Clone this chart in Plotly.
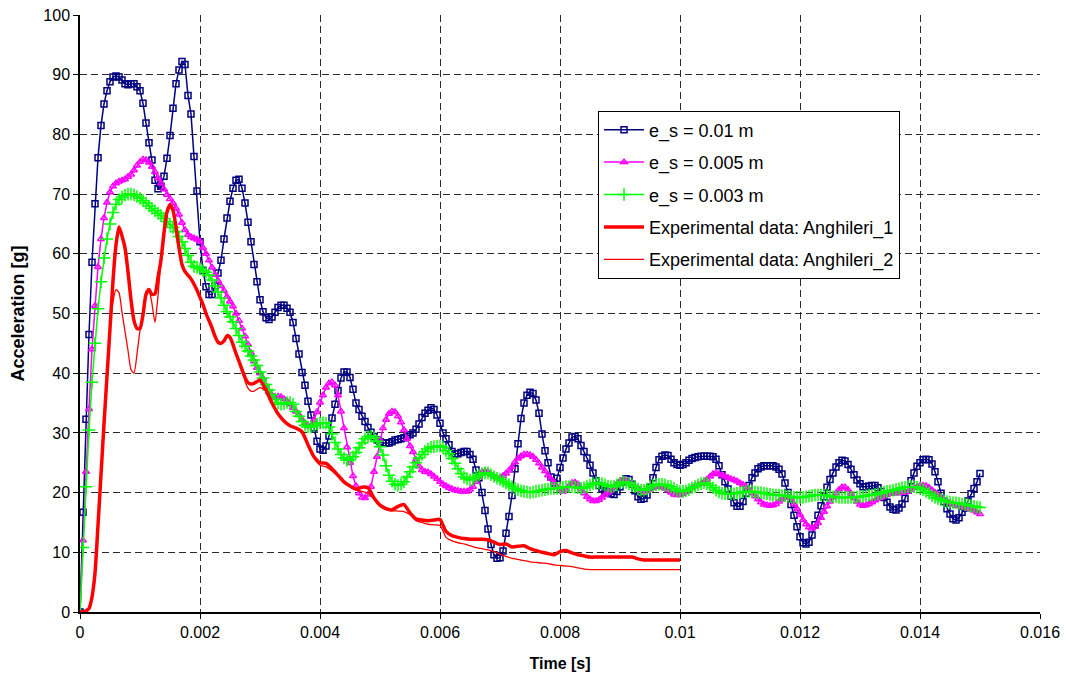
import numpy as np
import plotly.graph_objects as go

# Simulation time grid: 0 .. 0.015 s, sampled every 0.05 ms
t_sim = np.arange(301) * 0.00005

acc_es_010 = [
    0, 16.7, 32.3, 46.5, 58.6, 68.4, 76.1, 81.5, 85.1, 87.3,
    88.8, 89.6, 89.8, 89.6, 89.1, 88.5, 88.3, 88.5, 88.5, 88.0,
    87.3, 85.2, 81.9, 78.6, 75.7, 72.3, 70.9, 71.3, 73.0, 76.0,
    79.8, 84.4, 88.5, 90.8, 92.2, 91.7, 86.5, 83.4, 76.3, 70.5,
    62.0, 57.2, 54.5, 53.2, 53.2, 54.6, 56.8, 58.9, 62.5, 66.0,
    68.8, 71.0, 72.3, 72.5, 71.0, 68.5, 65.3, 62.0, 58.2, 55.3,
    52.3, 50.3, 49.3, 49.0, 49.4, 50.2, 51.0, 51.4, 51.4, 50.9,
    50.2, 48.5, 45.8, 43.2, 40.1, 38.0, 35.3, 33.0, 30.8, 28.6,
    27.3, 27.1, 27.8, 29.5, 32.5, 34.8, 37.1, 39.2, 40.2, 40.2,
    39.3, 37.3, 35.0, 33.9, 32.8, 31.9, 30.9, 30.1, 29.4, 28.8,
    28.5, 28.3, 28.3, 28.3, 28.5, 28.8, 28.9, 29.0, 29.2, 29.4,
    29.7, 30.0, 30.6, 31.5, 32.6, 33.3, 33.8, 34.2, 33.9, 33.0,
    31.6, 30.0, 29.0, 28.0, 26.9, 26.5, 26.5, 26.7, 26.9, 26.9,
    26.4, 25.6, 23.8, 22.5, 20.0, 17.0, 13.9, 11.3, 9.6, 9.0,
    9.1, 10.2, 13.2, 16.0, 19.5, 24.0, 28.2, 32.4, 35.0, 36.3,
    36.8, 36.6, 35.5, 33.3, 29.8, 27.0, 25.0, 22.6, 21.6, 22.4,
    24.2, 25.8, 27.3, 28.3, 29.3, 29.4, 29.0, 27.9, 26.9, 25.8,
    24.6, 23.3, 22.0, 21.2, 20.7, 20.3, 20.1, 19.8, 19.7, 20.2,
    21.0, 21.8, 22.3, 22.2, 21.4, 20.3, 19.3, 18.9, 19.0, 19.6,
    20.9, 22.5, 24.2, 25.5, 26.1, 26.3, 26.2, 25.6, 25.0, 24.7,
    24.6, 24.7, 25.0, 25.4, 25.7, 25.9, 26.0, 26.1, 26.1, 26.1,
    26.1, 26.0, 25.6, 24.5, 23.0, 21.8, 20.6, 19.4, 18.3, 17.7,
    17.7, 18.5, 19.9, 21.2, 22.5, 23.3, 24.0, 24.3, 24.5, 24.5,
    24.5, 24.5, 24.3, 23.9, 23.1, 21.6, 20.0, 18.0, 16.2, 14.3,
    12.6, 11.6, 11.4, 11.7, 12.9, 14.6, 16.2, 17.8, 19.3, 20.9,
    22.2, 23.3, 24.3, 25.0, 25.4, 25.3, 24.7, 23.9, 23.0, 22.1,
    21.5, 21.0, 21.0, 21.1, 21.2, 21.2, 20.8, 20.2, 19.2, 18.4,
    17.6, 17.2, 17.1, 17.4, 18.1, 19.0, 20.4, 22.0, 23.3, 24.4,
    25.0, 25.5, 25.6, 25.5, 24.8, 23.5, 21.8, 19.9, 18.5, 17.3,
    16.4, 15.6, 15.4, 15.8, 16.7, 17.4, 18.6, 19.8, 20.7, 21.8,
    23.2,
]

acc_es_005 = [
    0, 12.0, 23.5, 34.0, 44.0, 51.3, 57.8, 62.5, 66.0, 68.6,
    70.3, 71.3, 71.8, 72.1, 72.3, 72.5, 72.9, 73.3, 74.0, 74.8,
    75.4, 75.8, 75.7, 75.3, 74.6, 73.7, 72.7, 71.8, 70.8, 69.9,
    69.2, 68.5, 67.6, 66.6, 65.2, 64.0, 63.2, 62.8, 62.6, 62.4,
    62.1, 61.0, 60.0, 58.9, 57.7, 56.5, 55.5, 54.6, 53.8, 52.8,
    52.0, 51.2, 50.0, 48.8, 47.5, 46.2, 44.8, 43.4, 42.0, 40.9,
    40.0, 39.1, 37.9, 36.9, 36.3, 36.1, 36.1, 36.0, 35.7, 35.3,
    34.8, 34.2, 33.6, 33.0, 32.2, 31.6, 31.1, 31.2, 32.2, 33.5,
    35.1, 36.3, 37.6, 38.3, 38.5, 38.0, 36.3, 33.6, 30.8, 27.6,
    25.0, 22.8, 21.1, 19.9, 19.2, 19.1, 19.7, 21.0, 23.5, 26.0,
    28.8, 30.8, 32.2, 33.2, 33.6, 33.5, 32.8, 31.8, 30.5, 29.0,
    27.8, 26.8, 25.5, 24.4, 23.8, 23.5, 23.4, 23.1, 22.7, 22.3,
    21.8, 21.4, 21.1, 20.8, 20.6, 20.4, 20.3, 20.2, 20.2, 20.2,
    20.5, 21.0, 21.8, 22.6, 23.4, 23.6, 23.4, 23.0, 22.7, 22.4,
    22.5, 22.8, 23.2, 23.7, 24.3, 25.1, 25.7, 26.1, 26.4, 26.4,
    26.3, 26.0, 25.5, 24.9, 24.2, 23.6, 22.9, 22.3, 21.7, 21.0,
    20.5, 20.2, 20.5, 21.1, 21.6, 21.7, 21.4, 20.6, 19.9, 19.3,
    18.9, 18.6, 18.6, 18.8, 19.2, 19.6, 20.0, 20.4, 20.9, 21.5,
    21.9, 22.2, 22.1, 21.8, 21.3, 21.0, 20.7, 20.4, 20.2, 20.3,
    20.5, 20.8, 21.0, 21.0, 20.9, 20.7, 20.4, 20.0, 19.7, 19.6,
    19.6, 19.8, 20.1, 20.4, 20.8, 21.1, 21.3, 21.5, 21.8, 22.2,
    22.7, 23.1, 23.3, 23.1, 22.9, 22.7, 22.5, 22.3, 22.1, 21.9,
    21.6, 21.3, 21.0, 20.5, 19.9, 19.4, 18.9, 18.4, 18.0, 17.9,
    17.8, 17.9, 18.1, 18.5, 18.9, 19.2, 19.3, 19.0, 18.1, 17.3,
    16.3, 15.4, 14.7, 14.2, 14.0, 14.3, 14.9, 15.8, 16.8, 17.7,
    18.5, 19.2, 19.9, 20.5, 20.9, 20.9, 20.5, 19.8, 19.1, 18.5,
    18.0, 17.8, 17.9, 18.1, 18.4, 18.7, 19.0, 19.2, 19.4, 19.6,
    19.8, 19.9, 19.9, 19.9, 20.0, 20.1, 20.2, 20.5, 20.8, 21.0,
    21.2, 21.2, 21.1, 20.8, 20.4, 20.0, 19.6, 19.2, 18.8, 18.5,
    18.2, 18.0, 17.8, 17.7, 17.6, 17.5, 17.3, 17.2, 17.0, 16.7,
    16.4,
]

acc_es_003 = [
    0, 10.8, 21.0, 30.5, 38.5, 45.0, 50.8, 55.3, 59.3, 62.5,
    65.0, 66.9, 68.3, 69.1, 69.5, 69.8, 70.0, 70.0, 69.9, 69.6,
    69.3, 68.9, 68.5, 68.0, 67.6, 67.2, 66.8, 66.4, 65.9, 65.4,
    64.9, 64.4, 63.7, 62.9, 62.0, 60.9, 59.7, 58.6, 57.9, 57.7,
    57.5, 57.2, 56.9, 56.4, 55.6, 54.6, 53.6, 52.6, 51.4, 50.3,
    49.4, 48.6, 47.5, 46.3, 45.2, 44.5, 43.7, 42.9, 42.2, 41.3,
    40.2, 39.2, 38.1, 37.2, 36.4, 35.6, 35.0, 34.8, 34.9, 35.1,
    35.1, 34.8, 33.6, 32.8, 31.9, 31.3, 31.0, 31.0, 31.2, 31.5,
    31.7, 31.7, 31.6, 31.0, 29.8, 28.4, 27.3, 26.4, 25.8, 25.4,
    25.5, 26.0, 26.7, 27.5, 28.3, 29.0, 29.4, 29.5, 29.2, 28.6,
    27.7, 26.3, 24.5, 22.9, 21.9, 21.4, 21.2, 21.4, 21.8, 22.6,
    23.5, 24.3, 25.0, 25.8, 26.4, 26.9, 27.3, 27.6, 27.7, 27.8,
    27.8, 27.6, 27.0, 26.5, 25.7, 24.9, 24.0, 23.2, 22.6, 22.3,
    22.1, 22.3, 22.6, 22.9, 23.2, 23.3, 23.3, 23.0, 22.7, 22.4,
    22.2, 21.9, 21.6, 21.3, 21.0, 20.7, 20.5, 20.3, 20.2, 20.1,
    20.0, 20.1, 20.2, 20.3, 20.4, 20.5, 20.6, 20.7, 20.7, 20.7,
    20.8, 20.9, 21.0, 21.0, 21.0, 20.9, 20.8, 20.7, 20.8, 21.0,
    21.3, 21.5, 21.6, 21.6, 21.5, 21.3, 21.1, 21.0, 21.1, 21.3,
    21.6, 21.8, 21.7, 21.5, 21.2, 21.0, 20.6, 20.4, 20.4, 20.6,
    21.0, 21.2, 21.3, 21.4, 21.4, 21.3, 21.1, 21.0, 20.7, 20.4,
    20.2, 20.2, 20.3, 20.5, 20.8, 21.0, 21.3, 21.5, 21.6, 21.5,
    21.2, 20.8, 20.4, 20.1, 19.9, 19.8, 19.8, 19.8, 19.8, 19.9,
    20.0, 20.1, 20.2, 20.2, 20.2, 20.1, 20.0, 20.0, 19.9, 19.8,
    19.7, 19.6, 19.6, 19.6, 19.5, 19.5, 19.4, 19.3, 19.2, 19.2,
    19.2, 19.2, 19.3, 19.4, 19.5, 19.6, 19.6, 19.6, 19.6, 19.5,
    19.4, 19.3, 19.3, 19.2, 19.2, 19.2, 19.2, 19.2, 19.2, 19.3,
    19.3, 19.4, 19.5, 19.6, 19.6, 19.7, 19.8, 19.9, 20.1, 20.2,
    20.3, 20.4, 20.5, 20.6, 20.8, 20.9, 21.0, 21.0, 21.0, 20.9,
    20.7, 20.5, 20.2, 19.9, 19.5, 19.2, 19.0, 18.8, 18.6, 18.5,
    18.4, 18.3, 18.3, 18.2, 18.1, 18.0, 17.9, 17.8, 17.7, 17.6,
    17.5,
]

# Experimental time grid: 0.05 ms steps up to 3 ms, then 0.1 ms steps up to 10 ms
t_exp = np.concatenate([np.arange(61) * 0.00005, 0.003 + np.arange(1, 71) * 0.0001])

acc_anghileri_1 = [
    0, 0, 0.2, 0.6, 2.5, 6.5, 14.5, 23.0, 31.5, 39.5,
    47.5, 55.5, 61.5, 64.5, 63.0, 61.0, 57.0, 52.3, 48.8, 47.5,
    47.5, 49.8, 53.2, 54.0, 53.2, 53.3, 56.0, 59.0, 63.5, 67.0,
    68.2, 67.3, 64.5, 61.0, 58.2, 57.0, 56.4, 55.8, 54.9, 53.9,
    52.7, 51.5, 50.0, 48.8, 47.6, 46.2, 45.2, 45.0, 45.4, 46.3,
    46.0, 44.8, 43.3, 42.0, 40.6, 39.3, 38.4, 38.2, 38.3, 38.6,
    38.8,
    37.2, 35.0, 33.2, 32.0, 31.2, 30.8, 30.2, 28.0, 26.0, 25.0,
    24.9, 24.0, 22.9, 21.8, 21.1, 20.6, 20.9, 20.8, 19.1, 17.9,
    17.3, 17.1, 17.7, 18.0, 16.6, 15.6, 15.4, 15.3, 15.4, 15.5,
    13.5, 12.8, 12.5, 12.3, 12.2, 12.2, 12.2, 12.1, 11.7, 11.3,
    11.4, 10.9, 11.0, 11.1, 10.6, 10.3, 10.0, 9.8, 9.6, 10.1,
    10.3, 9.9, 9.6, 9.4, 9.2, 9.2, 9.2, 9.2, 9.2, 9.2,
    9.2, 9.2, 8.9, 8.7, 8.7, 8.7, 8.7, 8.7, 8.7, 8.7,
]

acc_anghileri_2 = [
    0, 0, 0.2, 0.6, 2.5, 6.5, 14.5, 23.0, 31.5, 39.5,
    47.5, 52.0, 54.0, 53.5, 50.2, 47.0, 43.8, 40.6, 40.0, 43.2,
    47.2, 50.3, 53.3, 53.8, 51.6, 48.5, 53.0, 58.8, 63.3, 66.8,
    68.2, 67.3, 64.5, 61.0, 58.2, 57.0, 56.4, 55.8, 54.9, 53.9,
    52.7, 51.5, 50.0, 48.8, 47.6, 46.2, 45.2, 45.0, 45.4, 46.3,
    46.0, 44.8, 43.3, 42.0, 40.6, 38.7, 37.5, 37.0, 37.0, 37.3,
    37.6,
    37.0, 35.0, 33.2, 32.0, 31.2, 30.8, 30.2, 28.0, 25.8, 24.6,
    24.3, 23.6, 22.7, 21.6, 21.0, 20.4, 20.2, 19.9, 18.9, 17.8,
    17.2, 17.0, 16.9, 16.8, 16.3, 15.3, 15.0, 14.7, 14.6, 14.5,
    12.5, 11.9, 11.6, 11.4, 11.1, 10.8, 10.6, 10.4, 10.1, 9.7,
    9.3, 9.0, 8.8, 8.6, 8.4, 8.3, 8.2, 8.1, 7.9, 7.8,
    7.7, 7.6, 7.4, 7.2, 7.1, 7.1, 7.1, 7.1, 7.1, 7.1,
    7.1, 7.1, 7.1, 7.1, 7.1, 7.1, 7.1, 7.1, 7.1, 7.1,
]

x_ticks = [0, 0.002, 0.004, 0.006, 0.008, 0.01, 0.012, 0.014, 0.016]
x_tick_labels = ["0", "0.002", "0.004", "0.006", "0.008", "0.01", "0.012", "0.014", "0.016"]
y_ticks = [0, 10, 20, 30, 40, 50, 60, 70, 80, 90, 100]

FONT = "Liberation Sans, Arial, sans-serif"

fig = go.Figure()

fig.add_trace(go.Scatter(
    x=t_sim, y=acc_es_010, name="e_s = 0.01 m", mode="lines+markers",
    line=dict(color="#000080", width=1.5),
    marker=dict(symbol="square-open", size=6, color="#000080", line=dict(width=1.5)),
    legendgroup="a",
))
fig.add_trace(go.Scatter(
    x=t_sim, y=acc_es_005, name="e_s = 0.005 m", mode="lines+markers",
    line=dict(color="#FF00FF", width=1.5),
    marker=dict(symbol="triangle-up-open", size=6, color="#FF00FF", line=dict(width=1.5)),
    legendgroup="b",
))
fig.add_trace(go.Scatter(
    x=t_sim, y=acc_es_003, name="e_s = 0.003 m", mode="lines+markers",
    line=dict(color="#00FF00", width=1.5),
    marker=dict(symbol="cross-thin-open", size=9, color="#00FF00", line=dict(width=1.5, color="#00FF00")),
    legendgroup="c",
))
fig.add_trace(go.Scatter(
    x=t_exp, y=acc_anghileri_1, name="Experimental data: Anghileri_1", mode="lines",
    line=dict(color="#FF0000", width=3.5, shape="spline", smoothing=0.6),
    legendgroup="d",
))
fig.add_trace(go.Scatter(
    x=t_exp, y=acc_anghileri_2, name="Experimental data: Anghileri_2", mode="lines",
    line=dict(color="#FF0000", width=1.3, shape="spline", smoothing=0.6),
    legendgroup="e",
))

grid_color = "#2a2a2a"

fig.update_xaxes(
    range=[0, 0.016], tickvals=x_ticks, ticktext=x_tick_labels,
    showgrid=True, gridcolor=grid_color, griddash="7px,4px", gridwidth=1,
    showline=True, linecolor="black", linewidth=1.5,
    ticks="outside", ticklen=5, tickcolor="black",
    zeroline=False, automargin=False,
    tickfont=dict(family=FONT, size=16, color="black"),
    title=dict(text="<b>Time [s]</b>", font=dict(family=FONT, size=16, color="black"), standoff=18),
)
fig.update_yaxes(
    range=[0, 100], tickvals=y_ticks,
    showgrid=True, gridcolor=grid_color, griddash="7px,4px", gridwidth=1,
    showline=True, linecolor="black", linewidth=1.5,
    ticks="outside", ticklen=5, tickcolor="black",
    zeroline=False, automargin=False,
    tickfont=dict(family=FONT, size=16, color="black"),
    title=dict(text="<b>Acceleration [g]</b>", font=dict(family=FONT, size=18, color="black"), standoff=14),
)

fig.update_layout(
    width=1066, height=677,
    margin=dict(l=80, r=26, t=15, b=65),
    paper_bgcolor="white", plot_bgcolor="white",
    font=dict(family=FONT, size=16, color="black"),
    showlegend=True,
    legend=dict(
        x=0.5396, y=0.840, xanchor="left", yanchor="top",
        bgcolor="white", bordercolor="black", borderwidth=1,
        font=dict(family=FONT, size=18, color="black"),
        tracegroupgap=6, itemwidth=40,
    ),
)

fig.write_html("out.html")
